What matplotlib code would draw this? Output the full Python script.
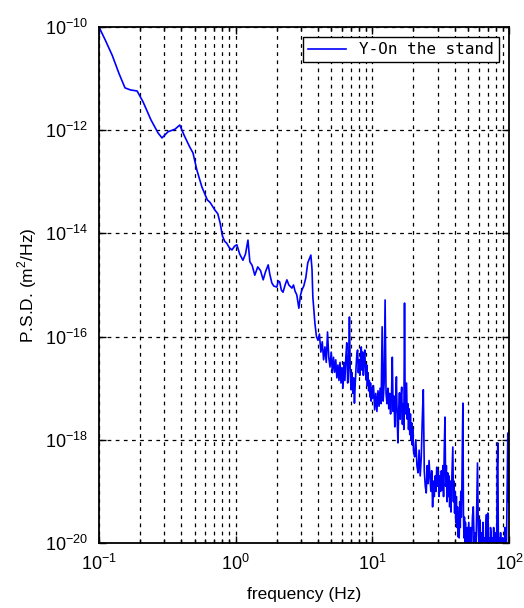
import numpy as np
import matplotlib.pyplot as plt
from matplotlib.ticker import LogLocator, NullFormatter, FixedLocator

# frequency (Hz) and log10 of the PSD (m^2/Hz)
freq = [0.100, 0.111, 0.125, 0.140, 0.155, 0.170, 0.190, 0.210, 0.240, 0.270,
        0.289, 0.320, 0.360, 0.390, 0.420, 0.460, 0.487, 0.520, 0.566, 0.620,
        0.650, 0.706, 0.740, 0.770, 0.800, 0.830, 0.860, 0.900, 0.940, 0.980,
        1.020, 1.070, 1.130, 1.180, 1.230, 1.250, 1.270, 1.320, 1.380, 1.450,
        1.520, 1.590, 1.650, 1.730, 1.780, 1.840, 1.900, 2.000, 2.050, 2.100,
        2.160, 2.220, 2.300, 2.370, 2.450, 2.580, 2.650, 2.720, 2.800, 2.900,
        2.980, 3.050, 3.150, 3.260, 3.370, 3.450, 3.550, 3.620, 3.670, 3.740,
        3.800, 3.900,
        4.0, 4.1, 4.2, 4.3, 4.4, 4.5, 4.6, 4.7, 4.8, 4.9,
        5.0, 5.1, 5.2, 5.3, 5.4, 5.5, 5.6, 5.7, 5.8, 5.9,
        6.0, 6.1, 6.2, 6.3, 6.4, 6.5, 6.6, 6.7, 6.8, 6.9,
        7.0, 7.1, 7.2, 7.3, 7.4, 7.5, 7.6, 7.7, 7.8, 7.9,
        8.0, 8.1, 8.2, 8.3, 8.4, 8.5, 8.6, 8.7, 8.8, 8.9,
        9.0, 9.1, 9.2, 9.3, 9.4, 9.5, 9.6, 9.7, 9.8, 9.9,
        10.0, 10.2, 10.4, 10.6, 10.8, 11.0, 11.2, 11.4, 11.6, 11.8,
        12.0, 12.2, 12.4, 12.6, 12.8, 13.0, 13.2, 13.4, 13.6, 13.8,
        14.0, 14.2, 14.4, 14.6, 14.8, 15.0, 15.2, 15.4, 15.6, 15.8,
        16.0, 16.2, 16.4, 16.6, 16.8, 17.0, 17.2, 17.4, 17.6, 17.8,
        18.0, 18.2, 18.4, 18.6, 18.8, 19.0, 19.2, 19.4, 19.6, 19.8,
        20.0, 20.4, 20.8, 21.2, 21.6, 22.0, 22.4, 22.8, 23.2, 23.6,
        24.0, 24.4, 24.8, 25.2, 25.6, 26.0, 26.4, 26.8, 27.2, 27.6,
        28.0, 28.4, 28.8, 29.2, 29.6, 30.0, 30.4, 30.8, 31.2, 31.6,
        32.0, 32.4, 32.8, 33.2, 33.6, 34.0, 34.4, 34.8, 35.2, 35.6,
        36.0, 36.4, 36.8, 37.2, 37.6, 38.0, 38.4, 38.8, 39.2, 39.6,
        40.0, 40.4, 40.8, 41.2, 41.6, 42.0, 42.4, 42.8, 43.2, 43.6,
        44.0, 44.4, 44.8, 45.2, 45.6, 46.0, 46.4, 46.8, 47.2, 47.6,
        48.0, 48.4, 48.8, 49.2, 49.6, 50.0, 50.8, 51.6, 52.4, 53.2,
        54.0, 54.8, 55.6, 56.4, 57.2, 58.0, 58.8, 59.6, 60.4, 61.2,
        62.0, 62.8, 63.6, 64.4, 65.2, 66.0, 66.8, 67.6, 68.4, 69.2,
        70.0, 70.8, 71.6, 72.4, 73.2, 74.0, 74.8, 75.6, 76.4, 77.2,
        78.0, 78.8, 79.6, 80.4, 81.2, 82.0, 82.8, 83.6, 84.4, 85.2,
        86.0, 86.8, 87.6, 88.4, 89.2, 90.0, 90.8, 91.6, 92.4, 93.2,
        94.0, 94.8, 95.6, 96.4, 97.2, 98.0, 98.8, 99.6, 100.0]
psd_exp = [-10.00, -10.25, -10.55, -10.90, -11.18, -11.22, -11.24, -11.45, -11.80, -12.05,
           -12.15, -12.03, -11.98, -11.90, -12.10, -12.32, -12.44, -12.77, -13.10, -13.35,
           -13.40, -13.55, -13.62, -13.80, -14.05, -14.15, -14.19, -14.28, -14.32, -14.25,
           -14.22, -14.40, -14.52, -14.40, -14.13, -14.35, -14.55, -14.62, -14.81, -14.65,
           -14.72, -14.90, -14.75, -14.61, -14.80, -14.96, -15.02, -15.04, -14.92, -14.94,
           -15.10, -15.14, -15.00, -14.90, -15.00, -15.06, -15.00, -15.12, -15.19, -15.45,
           -15.20, -15.10, -15.02, -14.86, -14.57, -14.50, -14.42, -14.70, -15.23, -15.50,
           -15.74, -16.00,
           -16.07, -15.95, -16.30, -16.10, -16.45, -16.20, -16.50, -15.91, -16.40, -16.59,
           -16.30, -16.70, -16.40, -16.69, -16.45, -16.80, -16.55, -16.85, -16.50, -16.90,
           -16.60, -17.00, -16.50, -16.85, -16.40, -16.12, -16.90, -16.60, -15.62, -16.75,
           -17.03, -16.70, -17.10, -16.80, -17.29, -16.90, -16.60, -16.35, -16.26, -16.70,
           -16.45, -16.75, -16.40, -16.20, -16.65, -16.30, -16.75, -16.40, -16.26, -16.60,
           -16.84, -16.55, -16.95, -16.70, -17.05, -16.85, -17.17, -16.90, -17.25, -17.00,
           -17.20, -16.95, -17.42, -17.10, -17.45, -17.05, -17.35, -17.00, -17.30, -15.81,
           -17.25, -16.90, -15.29, -17.10, -17.30, -17.00, -17.40, -17.10, -17.50, -17.20,
           -16.40, -17.45, -17.15, -17.75, -17.30, -16.78, -17.60, -18.06, -17.40, -17.09,
           -17.60, -17.20, -16.98, -17.70, -17.30, -17.80, -15.35, -17.50, -17.20, -16.90,
           -17.60, -17.30, -17.80, -17.40, -17.90, -17.50, -18.00, -17.67, -18.10, -17.80,
           -18.20, -18.33, -18.00, -18.50, -18.64, -18.20, -18.70, -18.35, -17.60, -17.03,
           -18.60, -18.90, -19.03, -18.50, -18.85, -18.40, -18.72, -19.00, -18.60, -19.30,
           -18.80, -19.10, -18.70, -19.00, -18.53, -18.90, -18.60, -19.10, -18.70, -19.00,
           -18.60, -18.97, -18.50, -19.10, -18.20, -17.56, -18.90, -18.50, -19.20, -18.64,
           -19.10, -18.70, -19.30, -18.80, -19.40, -18.90, -18.50, -18.14, -19.20, -18.80,
           -19.42, -19.00, -19.60, -19.10, -19.70, -19.30, -19.88, -19.40, -19.90, -19.20,
           -19.70, -19.00, -19.50, -18.97, -18.00, -17.29, -19.40, -19.90, -19.50, -20.10,
           -19.60, -20.20, -19.81, -20.30, -19.70, -20.20, -19.60, -20.30, -19.70, -20.20,
           -19.50, -19.30, -20.00, -19.80, -20.30, -19.40, -18.45, -19.70, -20.20, -19.55,
           -20.30, -19.80, -20.30, -19.60, -20.20, -19.90, -20.30, -19.70, -19.45, -20.10,
           -19.42, -20.20, -19.90, -20.30, -19.70, -19.81, -20.30, -19.90, -20.40, -19.70,
           -20.20, -19.90, -20.40, -19.80, -20.30, -18.50, -18.06, -20.00, -20.40, -19.90,
           -20.30, -19.80, -20.40, -20.00, -20.50, -19.90, -20.40, -20.00, -20.30, -19.70,
           -20.40, -19.90, -20.30, -19.50, -18.60, -17.87, -19.20, -18.00, -17.80]

series_label = "Y-On the stand"
y_ticks = [1e-20, 1e-18, 1e-16, 1e-14, 1e-12, 1e-10]
y_tick_labels = ["$10^{-20}$", "$10^{-18}$", "$10^{-16}$", "$10^{-14}$", "$10^{-12}$", "$10^{-10}$"]
x_ticks = [0.1, 1, 10, 100]
x_tick_labels = ["$10^{-1}$", "$10^{0}$", "$10^{1}$", "$10^{2}$"]

plt.rcParams['font.family'] = ['Liberation Sans', 'DejaVu Sans']
plt.rcParams['mathtext.fontset'] = 'custom'
plt.rcParams['mathtext.rm'] = 'Liberation Sans'

fig = plt.figure(figsize=(5.24, 6.08), dpi=100)
ax = fig.add_axes([99 / 524, 1 - 543 / 608, 410 / 524, 516 / 608])

psd = 10.0 ** np.array(psd_exp)
ax.plot(freq, psd, color='#0000ff', linewidth=1.2, label=series_label)

ax.set_xscale('log')
ax.set_yscale('log')
ax.set_xlim(0.1, 100)
ax.set_ylim(1e-20, 1e-10)

ax.yaxis.set_major_locator(FixedLocator(y_ticks))
ax.set_yticklabels(y_tick_labels, fontsize=13)
ax.yaxis.set_minor_locator(FixedLocator([]))
ax.xaxis.set_major_locator(FixedLocator(x_ticks))
ax.set_xticklabels(x_tick_labels, fontsize=13)
ax.xaxis.set_minor_locator(LogLocator(base=10, subs=np.arange(2, 10)))
ax.xaxis.set_minor_formatter(NullFormatter())

ax.tick_params(which='both', direction='in', top=True, right=True, width=1.0)
ax.tick_params(which='major', length=5, pad=8)
ax.tick_params(which='minor', length=3)

dash = (0, (3, 3.5))
ax.grid(True, which='major', axis='both', color='black', linestyle=dash, linewidth=0.9)
ax.grid(True, which='minor', axis='x', color='black', linestyle=dash, linewidth=0.9)

for sp in ax.spines.values():
    sp.set_linewidth(1.3)

ax.set_xlabel("frequency (Hz)", fontsize=12.5, labelpad=9)
ax.set_ylabel("P.S.D. (m$^2$/Hz)", fontsize=12.5, labelpad=4)

leg = ax.legend(loc='upper right', prop={'family': 'DejaVu Sans Mono', 'size': 11.5},
                frameon=True, fancybox=False, framealpha=1, edgecolor='black',
                handlelength=2.4, handletextpad=0.8,
                borderaxespad=0.65, borderpad=0.3)
leg.get_frame().set_linewidth(1.0)

fig.savefig("out.png", dpi=100)
